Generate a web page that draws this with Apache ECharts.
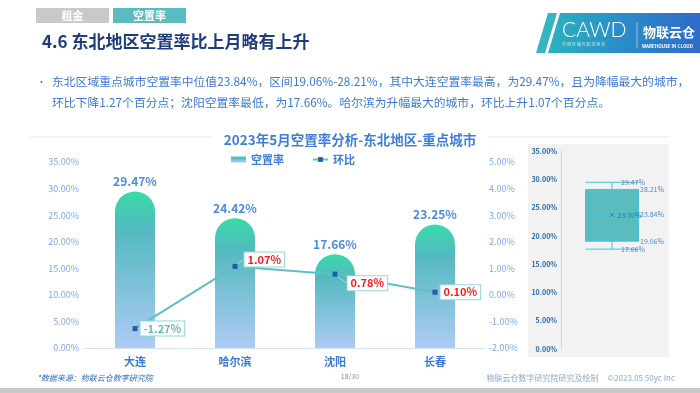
<!DOCTYPE html>
<html>
<head>
<meta charset="utf-8">
<script src="https://cdn.jsdelivr.net/npm/echarts@6/dist/echarts.min.js"></script>
<style>
html,body{margin:0;padding:0;background:#fff;}
#main{width:700px;height:393px;}
</style>
</head>
<body>
<div id="main"></div>
<script>
// ---- data ----
const tabs = ['租金', '空置率'];
const pageTitle = '4.6 东北地区空置率比上月略有上升';
const paragraph = [
  '东北区域重点城市空置率中位值23.84%，区间19.06%-28.21%，其中大连空置率最高，为29.47%，且为降幅最大的城市，',
  '环比下降1.27个百分点；沈阳空置率最低，为17.66%。哈尔滨为升幅最大的城市，环比上升1.07个百分点。'
];
const chartTitle = '2023年5月空置率分析-东北地区-重点城市';
const seriesNames = ['空置率', '环比'];
const cities = ['大连', '哈尔滨', '沈阳', '长春'];
const vacancy = [29.47, 24.42, 17.66, 23.25];
const mom = [-1.27, 1.07, 0.78, 0.10];
const leftAxis = { min: 0, max: 35, step: 5 };
const rightAxis = { min: -2, max: 5, step: 1 };
const boxCategory = ['东北地区'];
const boxStats = [17.66, 19.06, 23.84, 28.21, 29.47]; // min, Q1, median, Q3, max
const boxMean = 23.70;
const footerSource = '*数据来源：物联云仓数字研究院';
const footerPage = '18/30';
const footerRight = '物联云仓数字研究院研究及绘制     ©2023.05 50yc Inc';

const FONT = '"Noto Sans CJK SC", "Noto Sans", sans-serif';
const pct = v => Number(v).toFixed(2) + '%';

const chart = echarts.init(document.getElementById('main'), null, { renderer: 'canvas' });

const barGradient = new echarts.graphic.LinearGradient(0, 0, 0, 1, [
  { offset: 0, color: '#38dba8' },
  { offset: 0.25, color: '#54b9c0' },
  { offset: 1, color: '#aecbf5' }
]);

// label distances for box stats (min, q1, median, q3, max)
const boxLabelDist = [9, 28, 28, 28, 9];

const option = {
  backgroundColor: '#ffffff',
  animation: false,
  textStyle: { fontFamily: FONT },
  title: {
    text: chartTitle,
    left: 'center',
    top: 128,
    textStyle: { fontSize: 13.5, fontWeight: 'bold', color: '#3c7fdc', fontFamily: FONT }
  },
  legend: {
    left: 226,
    top: 149,
    itemWidth: 15,
    itemHeight: 6,
    itemGap: 28,
    textStyle: { fontSize: 11, fontWeight: 'bold', color: '#3b7dd8', fontFamily: FONT },
    data: [{ name: seriesNames[0], icon: 'rect' }, { name: seriesNames[1] }]
  },
  grid: [
    { left: 85, top: 162, width: 400, height: 186 },
    { left: 561, top: 151, width: 102, height: 198 }
  ],
  xAxis: [
    {
      type: 'category', gridIndex: 0, data: cities,
      axisLine: { lineStyle: { color: '#d7e3f5', width: 1 } },
      axisTick: { show: false },
      axisLabel: { color: '#3a7bd5', fontSize: 11, fontWeight: 'bold', margin: 8, fontFamily: FONT }
    },
    {
      type: 'category', gridIndex: 1, data: boxCategory,
      show: false
    }
  ],
  yAxis: [
    {
      type: 'value', gridIndex: 0, min: leftAxis.min, max: leftAxis.max, interval: leftAxis.step,
      axisLine: { show: false }, axisTick: { show: false }, splitLine: { show: false },
      axisLabel: { formatter: pct, color: '#7ea8e8', fontSize: 9, margin: 6, fontFamily: FONT }
    },
    {
      type: 'value', gridIndex: 0, position: 'right', min: rightAxis.min, max: rightAxis.max, interval: rightAxis.step,
      axisLine: { show: false }, axisTick: { show: false }, splitLine: { show: false },
      axisLabel: { formatter: pct, color: '#7ea8e8', fontSize: 9, margin: 4, fontFamily: FONT }
    },
    {
      type: 'value', gridIndex: 1, min: leftAxis.min, max: leftAxis.max, interval: leftAxis.step,
      axisLine: { show: true, lineStyle: { color: '#d0d4da' } }, axisTick: { show: false }, splitLine: { show: false },
      axisLabel: { formatter: pct, color: '#2567ad', fontSize: 7, fontWeight: 'bold', margin: 4, fontFamily: FONT }
    }
  ],
  series: [
    {
      name: seriesNames[0],
      type: 'bar',
      xAxisIndex: 0, yAxisIndex: 0,
      data: vacancy,
      barWidth: 40,
      itemStyle: { color: barGradient, borderRadius: [20, 20, 0, 0] },
      label: {
        show: true, position: 'top', distance: 4,
        formatter: p => pct(p.value),
        color: '#4b8be0', fontSize: 12, fontWeight: 'bold', fontFamily: FONT
      },
      z: 2
    },
    {
      name: seriesNames[1],
      type: 'line',
      xAxisIndex: 0, yAxisIndex: 1,
      data: mom.map(v => ({ value: v, label: { color: v < 0 ? '#5dbdc0' : '#ff1a1a' } })),
      symbol: 'rect',
      symbolSize: 5,
      itemStyle: { color: '#1f5faa' },
      lineStyle: { color: '#5ec0c4', width: 2 },
      label: {
        show: true, position: 'right', distance: 3,
        formatter: p => pct(p.value),
        fontSize: 11, fontWeight: 'bold', fontFamily: FONT,
        backgroundColor: '#ffffff', borderColor: '#94d5d8', borderWidth: 1,
        padding: [2, 3, 1, 3]
      },
      labelLine: { show: true, lineStyle: { color: '#a8dadc', width: 1 } },
      labelLayout: function (params) {
        if (params.dataIndex === 1) return { dx: 4, dy: -7 };
        if (params.dataIndex === 2) return { dx: 7, dy: 9 };
        return {};
      },
      z: 5
    },
    {
      name: 'box',
      type: 'boxplot',
      xAxisIndex: 1, yAxisIndex: 2,
      data: [boxStats],
      boxWidth: [53, 53],
      itemStyle: { color: '#5bbcc0', borderColor: '#3fc5df', borderWidth: 1 },
      z: 2
    },
    {
      name: 'boxLabels',
      type: 'scatter',
      xAxisIndex: 1, yAxisIndex: 2,
      symbolSize: 0,
      data: boxStats.map((v, i) => ({
        value: [0, v],
        label: { distance: boxLabelDist[i] }
      })),
      label: {
        show: true, position: 'right',
        formatter: p => pct(p.value[1]),
        color: '#2a6fb5', fontSize: 7, fontFamily: FONT
      },
      z: 4
    },
    {
      name: 'boxMean',
      type: 'scatter',
      xAxisIndex: 1, yAxisIndex: 2,
      symbol: 'path://M0,0 L10,10 M10,0 L0,10',
      symbolSize: 4,
      itemStyle: { color: 'none', borderColor: '#2a6fb5', borderWidth: 1 },
      data: [[0, boxMean]],
      label: {
        show: true, position: 'right', distance: 1,
        formatter: p => pct(p.value[1]),
        color: '#1f5fa8', fontSize: 7, fontFamily: FONT
      },
      z: 4
    }
  ],
  graphic: [
    // tabs
    { type: 'rect', left: 36, top: 8, shape: { width: 73, height: 15 }, style: { fill: '#c9c9c9' }, z: 1 },
    { type: 'rect', left: 113, top: 8, shape: { width: 73, height: 15 }, style: { fill: '#5bbcc0' }, z: 1 },
    { type: 'text', x: 72.5, y: 15.5, style: { text: tabs[0], fill: '#ffffff', font: 'bold 11px ' + FONT, align: 'center', verticalAlign: 'middle' }, z: 2 },
    { type: 'text', x: 149.5, y: 15.5, style: { text: tabs[1], fill: '#ffffff', font: 'bold 11px ' + FONT, align: 'center', verticalAlign: 'middle' }, z: 2 },
    // page title
    { type: 'text', x: 42, y: 42, style: { text: pageTitle, fill: '#1f3d7c', font: 'bold 17px ' + FONT, verticalAlign: 'middle' } },
    // logo
    { type: 'polygon', shape: { points: [[548, 13], [557, 13], [545, 53], [536, 53]] }, style: { fill: '#33b5c2' } },
    {
      type: 'polygon', shape: { points: [[560, 13], [700, 13], [700, 53], [548, 53]] },
      style: {
        fill: new echarts.graphic.LinearGradient(0, 0, 1, 0, [
          { offset: 0, color: '#2bb2c1' }, { offset: 0.5, color: '#2a8bc9' }, { offset: 1, color: '#2e6cc6' }
        ])
      }
    },
    { type: 'text', x: 562, y: 30, style: { text: 'CAWD', fill: '#ffffff', font: '300 21px Lato, "Open Sans", sans-serif', verticalAlign: 'middle' } },
    { type: 'text', x: 562, y: 44, style: { text: '中 国 仓 储 与 配 送 协 会', fill: 'rgba(255,255,255,0.8)', font: '4px ' + FONT, verticalAlign: 'middle' } },
    { type: 'line', shape: { x1: 637, y1: 22, x2: 637, y2: 48 }, style: { stroke: 'rgba(255,255,255,0.5)', lineWidth: 1 } },
    { type: 'text', x: 643, y: 32, style: { text: '物联云仓', fill: '#ffffff', font: 'bold 13px ' + FONT, verticalAlign: 'middle' } },
    { type: 'text', x: 642, y: 46, style: { text: 'WAREHOUSE IN CLOUD', fill: '#ffffff', font: 'bold 4.5px ' + FONT, verticalAlign: 'middle' } },
    // paragraph
    { type: 'text', x: 37, y: 82, style: { text: '•', fill: '#3a7bd5', font: '9px ' + FONT, verticalAlign: 'middle' } },
    { type: 'text', x: 52, y: 82, style: { text: paragraph[0], fill: '#3a7bd5', font: '11.8px ' + FONT, verticalAlign: 'middle' } },
    { type: 'text', x: 52, y: 103, style: { text: paragraph[1], fill: '#3a7bd5', font: '11.8px ' + FONT, verticalAlign: 'middle' } },
    // title side lines
    { type: 'line', shape: { x1: 30, y1: 137, x2: 213, y2: 137 }, style: { stroke: '#e6e8ea', lineWidth: 1 } },
    { type: 'line', shape: { x1: 488, y1: 137, x2: 670, y2: 137 }, style: { stroke: '#e6e8ea', lineWidth: 1 } },
    // box panel background
    { type: 'rect', left: 528, top: 144, shape: { width: 141, height: 213 }, style: { fill: '#f2f2f2' }, z: -10 },
    // footer
    { type: 'text', x: 37, y: 378, style: { text: footerSource, fill: '#2f6fc0', font: 'italic 8px ' + FONT, verticalAlign: 'middle' } },
    { type: 'text', x: 350, y: 376, style: { text: footerPage, fill: '#8a8a8a', font: '7px ' + FONT, align: 'center', verticalAlign: 'middle' } },
    { type: 'text', x: 675, y: 378, style: { text: footerRight, fill: '#8eaacb', font: '8px ' + FONT, align: 'right', verticalAlign: 'middle' } },
    { type: 'rect', left: 0, top: 388, shape: { width: 700, height: 5 }, style: { fill: '#c8c9c8' } }
  ]
};

chart.setOption(option);
</script>
</body>
</html>
